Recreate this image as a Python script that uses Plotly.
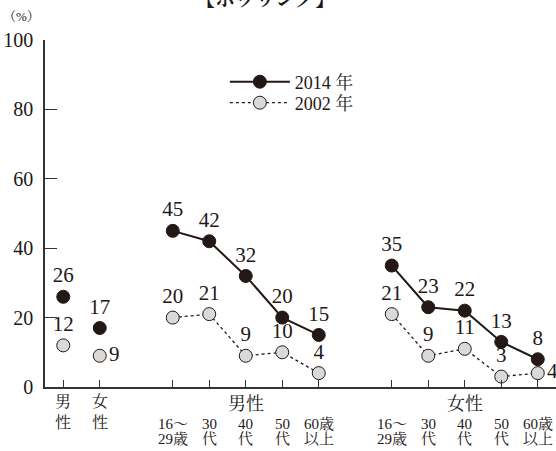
import plotly.graph_objects as go

# ---- data ----
overall_labels = ["男性", "女性"]
age_labels = ["16～29歳", "30代", "40代", "50代", "60歳以上"]
age_tick_lines = [["16～", "29歳"], ["30", "代"], ["40", "代"], ["50", "代"], ["60歳", "以上"]]
overall_tick_lines = [["男", "性"], ["女", "性"]]
group_labels = ["男性", "女性"]

overall_2014 = [26, 17]
male_2014 = [45, 42, 32, 20, 15]
female_2014 = [35, 23, 22, 13, 8]

overall_2002 = [12, 9]
male_2002 = [20, 21, 9, 10, 4]
female_2002 = [21, 9, 11, 3, 4]

# positions of the categories along the axis
x_overall = [0, 1]
x_male = [3, 4, 5, 6, 7]
x_female = [9, 10, 11, 12, 13]

FONT = "'Liberation Serif', 'Times New Roman', 'DejaVu Serif', 'Noto Serif CJK JP', 'Noto Sans CJK JP', serif"
BLACK = "#231815"
GRAY = "#d9d9d9"


def build(ov, m, f):
    xs = [x_overall[0], None, x_overall[1], None] + x_male + [None] + x_female
    ys = [ov[0], None, ov[1], None] + m + [None] + f
    return xs, ys


x14, y14 = build(overall_2014, male_2014, female_2014)
x02, y02 = build(overall_2002, male_2002, female_2002)

pos14 = ["top center" for _ in y14]
pos02 = ["top center" for _ in y02]
# right-side labels in 2002 series
pos02[2] = "middle right"   # 女性 overall 9
pos02[-1] = "middle right"  # 女性 60歳以上 4

fig = go.Figure()
fig.add_trace(go.Scatter(
    x=x14, y=y14, name="2014 年", mode="lines+markers+text",
    text=[str(v) if v is not None else "" for v in y14],
    textposition=pos14,
    textfont=dict(family=FONT, size=21, color=BLACK),
    line=dict(color=BLACK, width=2),
    marker=dict(size=13, color=BLACK, line=dict(color=BLACK, width=1)),
    cliponaxis=False, legend="legend",
))
fig.add_trace(go.Scatter(
    x=x02, y=y02, name="2002 年", mode="lines+markers+text",
    text=[str(v) if v is not None else "" for v in y02],
    textposition=pos02,
    textfont=dict(family=FONT, size=21, color=BLACK),
    line=dict(color=BLACK, width=1.3, dash="dot"),
    marker=dict(size=13, color=GRAY, line=dict(color=BLACK, width=1)),
    cliponaxis=False, legend="legend2",
))

annotations = []
# bottom category labels
for xv, lines in zip(x_overall, overall_tick_lines):
    annotations.append(dict(x=xv, y=0, xref="x", yref="paper", text="<br>".join(lines),
                            showarrow=False, yanchor="top", yshift=-4,
                            font=dict(family=FONT, size=16, color=BLACK)))
for xs_grp in (x_male, x_female):
    for xv, lines in zip(xs_grp, age_tick_lines):
        for k, t in enumerate(lines):
            annotations.append(dict(x=xv, y=0, xref="x", yref="paper", text=t,
                                    showarrow=False, yanchor="top",
                                    yshift=-27 - 15 * k,
                                    font=dict(family=FONT, size=15, color=BLACK)))
for xs_grp, g in zip((x_male, x_female), group_labels):
    annotations.append(dict(x=xs_grp[2], y=0, xref="x", yref="paper", text=g,
                            showarrow=False, yanchor="top", yshift=-5,
                            font=dict(family=FONT, size=18, color=BLACK)))
# unit label
annotations.append(dict(x=0, y=1, xref="paper", yref="paper", text="（%）",
                        showarrow=False, xanchor="center", yanchor="bottom",
                        xshift=-24, yshift=14,
                        font=dict(family=FONT, size=13, color=BLACK)))
# title (cut off at top of picture)
annotations.append(dict(x=0.43, y=1, xref="paper", yref="paper", text="<b>【ボウリング】</b>",
                        showarrow=False, yanchor="bottom", yshift=28,
                        font=dict(family=FONT, size=20, color=BLACK)))

leg_common = dict(xanchor="left", yanchor="middle", itemwidth=60,
                  font=dict(family=FONT, size=18, color=BLACK),
                  bgcolor="rgba(0,0,0,0)")
fig.update_layout(
    width=556, height=451,
    margin=dict(l=45, r=0, t=40, b=64),
    paper_bgcolor="white", plot_bgcolor="white",
    showlegend=True,
    legend=dict(x=0.352, y=(387 - 82) / 347, **leg_common),
    legend2=dict(x=0.352, y=(387 - 103) / 347, **leg_common),
    annotations=annotations,
    font=dict(family=FONT, color=BLACK),
)
fig.update_xaxes(range=[-0.5, 13.5], showgrid=False, zeroline=False,
                 showline=True, linecolor="#333333", linewidth=1.5,
                 ticks="inside", ticklen=7, tickcolor="#333333", tickwidth=1.2,
                 tickvals=x_overall + x_male + x_female, showticklabels=False)
fig.update_yaxes(range=[0, 100], showgrid=False, zeroline=False,
                 showline=True, linecolor="#333333", linewidth=1.5,
                 ticks="inside", ticklen=12, tickcolor="#333333", tickwidth=1.2,
                 tickvals=[0, 20, 40, 60, 80, 100],
                 tickfont=dict(family=FONT, size=20, color=BLACK),
                 ticklabelstandoff=6)

fig.write_html("out.html")
